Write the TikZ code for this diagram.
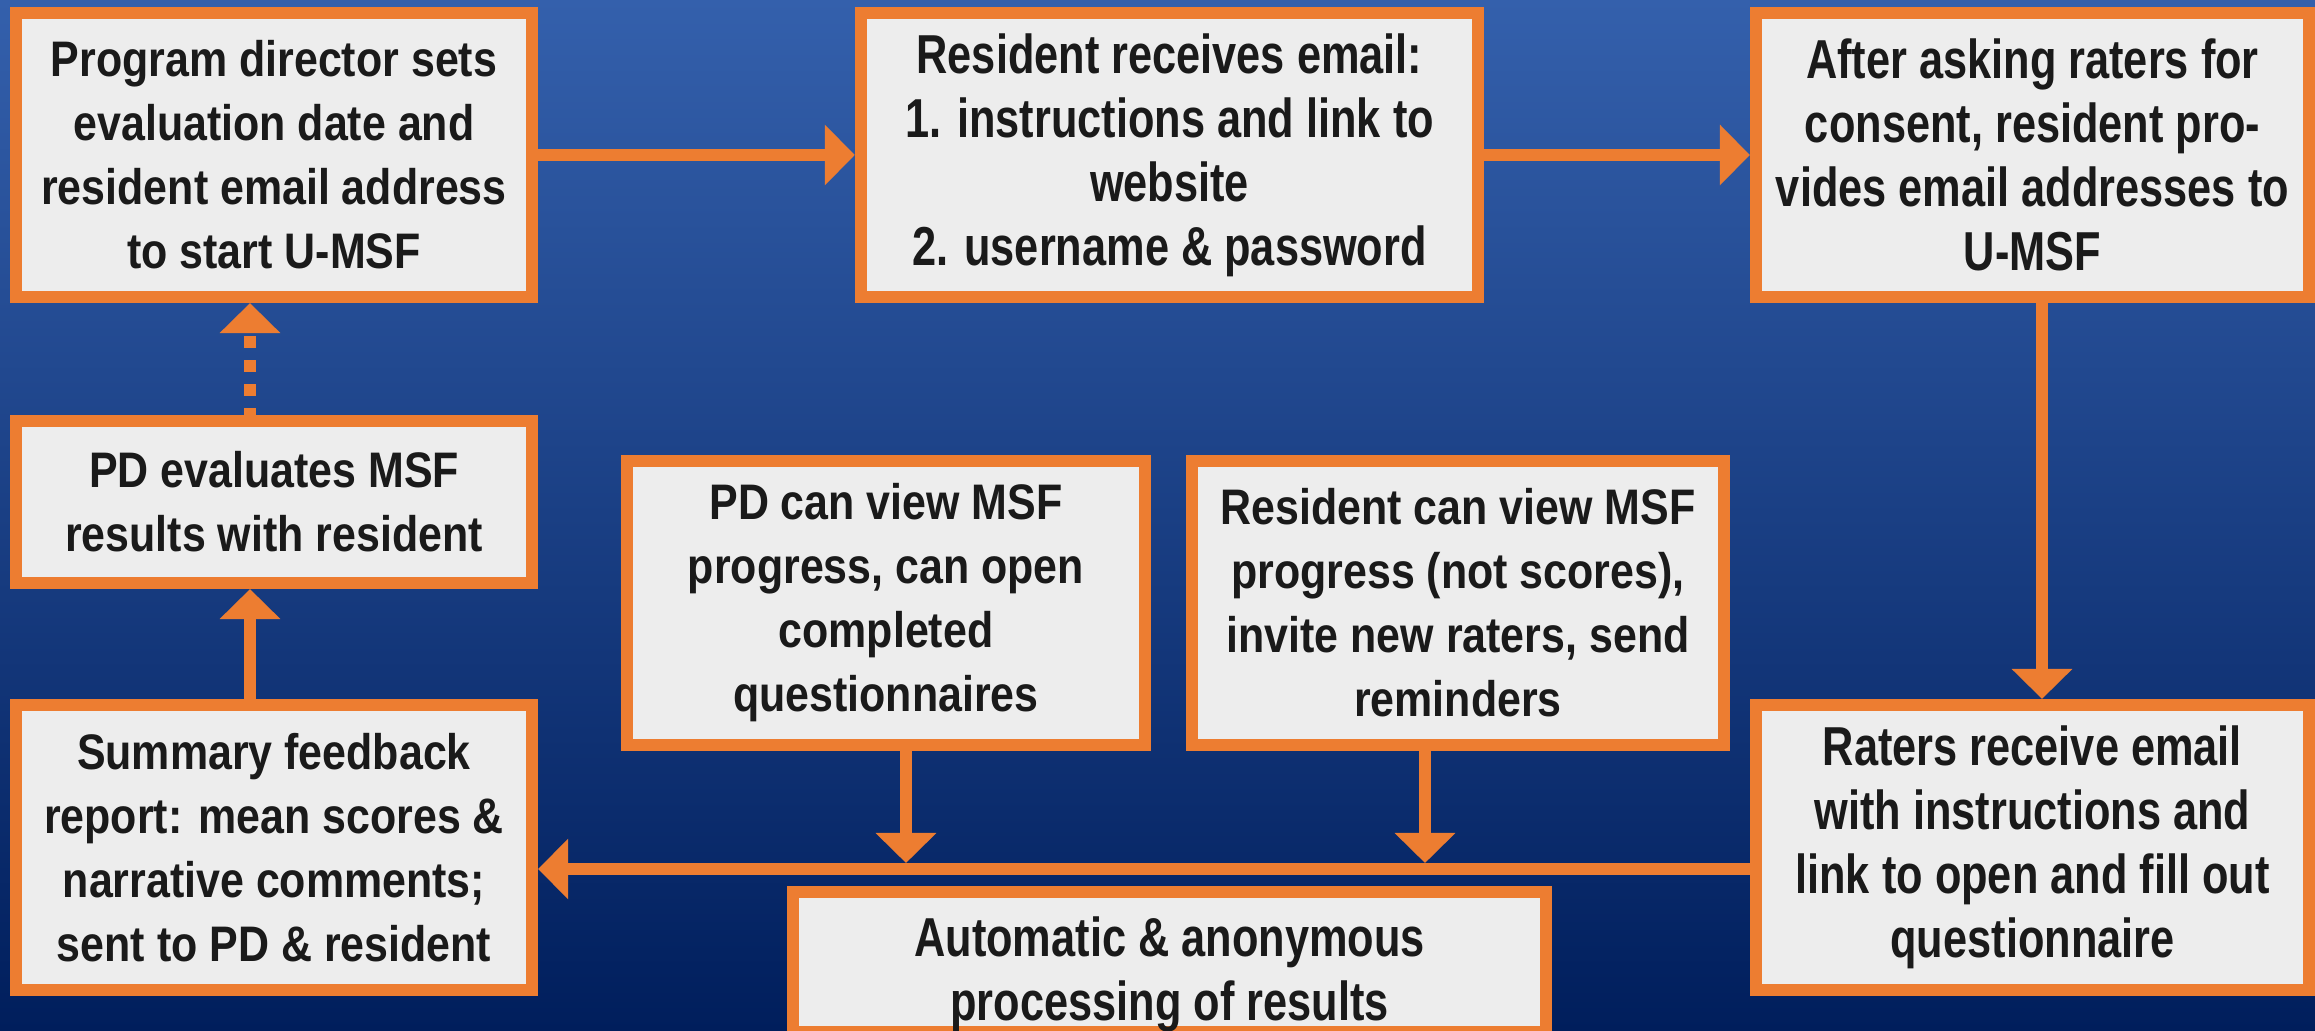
\documentclass[tikz,border=0pt]{standalone}
\usepackage{fontspec}
\setmainfont{Liberation Sans}
\newfontfamily\fontNA[FakeStretch=0.86]{Liberation Sans}
\newfontfamily\fontNB[FakeStretch=0.79]{Liberation Sans}
\usetikzlibrary{arrows.meta}
\definecolor{orng}{HTML}{ED7D31}
\definecolor{boxfill}{HTML}{EDEDED}
\definecolor{txt}{HTML}{1A1A1A}
\definecolor{bgtop}{RGB}{52,96,172}
\definecolor{bgbot}{RGB}{0,30,92}
\begin{document}
\begin{tikzpicture}[x=0.01cm,y=-0.01cm,
  box/.style={draw=orng, line width=0.12cm, fill=boxfill, inner sep=0pt, align=center, text=txt},
  fa/.style={font=\fontNA\bfseries\fontsize{14.2pt}{18.2pt}\selectfont},
  fb/.style={font=\fontNB\bfseries\fontsize{15.6pt}{18.2pt}\selectfont},
  arr/.style={draw=orng, line width=0.12cm, -{Triangle[length=0.30cm,width=0.59cm]}},
]
\useasboundingbox (0,0) rectangle (2315,1031);
\clip (0,0) rectangle (2315,1031);
\fill[top color=bgtop, bottom color=bgbot] (0,0) rectangle (2315,1031);

\node[box,fa,minimum width=5.16cm,minimum height=2.84cm] (b1) at (274,155)
  {Program director sets\\evaluation date and\\resident email address\\to start U-MSF};
\node[box,fb,minimum width=6.17cm,minimum height=2.84cm] (b2) at (1169.5,155)
  {Resident receives email:\\1. instructions and link to\\website\\2. username \& password};
\node[box,fb,minimum width=5.53cm,minimum height=2.84cm] (b3) at (2032.5,155)
  {After asking raters for\\consent, resident pro-\\vides email addresses to\\U-MSF};
\node[box,fa,minimum width=5.16cm,minimum height=1.62cm] (b4) at (274,502)
  {PD evaluates MSF\\results with resident};
\node[box,fa,minimum width=5.18cm,minimum height=2.84cm] (b5) at (886,603)
  {PD can view MSF\\progress, can open\\completed\\questionnaires};
\node[box,fa,minimum width=5.32cm,minimum height=2.84cm] (b6) at (1458,603)
  {Resident can view MSF\\progress (not scores),\\invite new raters, send\\reminders};
\node[box,fa,minimum width=5.16cm,minimum height=2.85cm] (b7) at (274,847.5)
  {Summary feedback\\report: mean scores \&\\narrative comments;\\sent to PD \& resident};
\node[box,fb,minimum width=7.53cm,minimum height=1.38cm] (b8) at (1169.5,962)
  {\rule{0pt}{0.64cm}Automatic \& anonymous\\processing of results};
\node[box,fb,minimum width=5.53cm,minimum height=2.85cm] (b9) at (2032.5,847.5)
  {Raters receive email\\with instructions and\\link to open and fill out\\questionnaire};

\coordinate (x3) at (2042,0);
\coordinate (hl) at (0,869);
\coordinate (j5) at (906,863);
\coordinate (j6) at (1425,863);
\coordinate (x7) at (250,0);

\draw[arr] (b1.east) -- (b2.west);
\draw[arr] (b2.east) -- (b3.west);
\draw[arr] (x3 |- b3.south) -- (x3 |- b9.north);
\draw[arr] (hl -| b9.west) -- (hl -| b7.east);
\draw[arr] (j5 |- b5.south) -- (j5);
\draw[arr] (j6 |- b6.south) -- (j6);
\draw[arr] (x7 |- b7.north) -- (x7 |- b4.south);
\draw[arr, dash pattern=on 0.12cm off 0.12cm, dash phase=0.05cm] (x7 |- b4.north) -- (x7 |- b1.south);
\end{tikzpicture}
\end{document}
